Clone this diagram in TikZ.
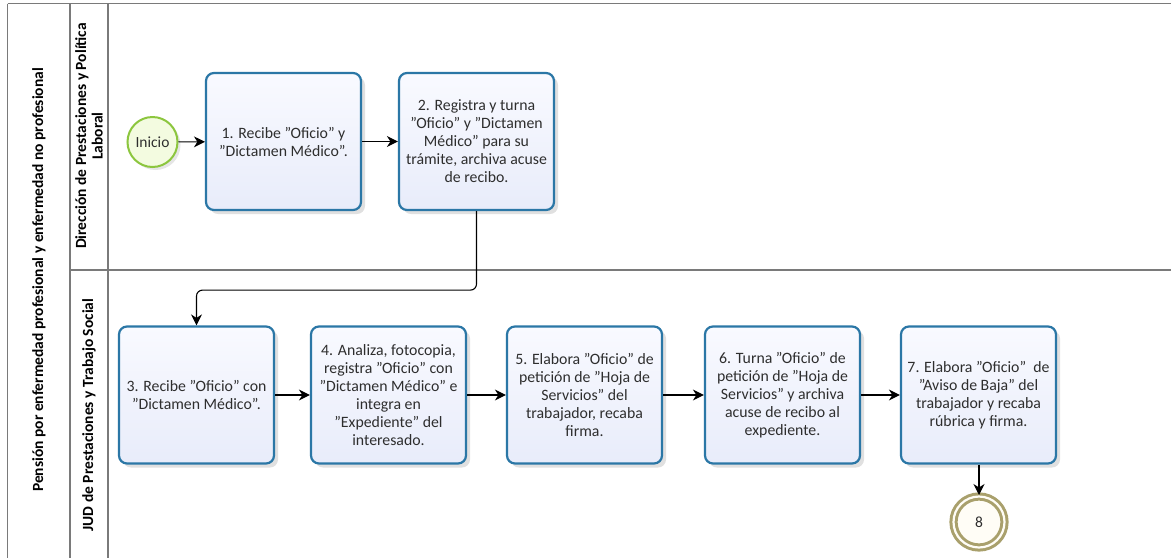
\documentclass[tikz,border=0pt]{standalone}
\usepackage{fontspec}
\setmainfont{Carlito}
\usetikzlibrary{arrows.meta,shadows,positioning}
\definecolor{laneline}{HTML}{7A7A7A}
\definecolor{taskline}{HTML}{2B77A6}
\definecolor{tasktop}{HTML}{F9FAFF}
\definecolor{taskbot}{HTML}{E8ECFA}
\definecolor{txt}{HTML}{2E2E2E}
\definecolor{startline}{HTML}{8CC63E}
\definecolor{startfill}{HTML}{F3FBE0}
\definecolor{endline}{HTML}{A9A06C}
\definecolor{endfill}{HTML}{FFFDF6}
\tikzset{
  x=1pt, y=-1pt,
  lanerule/.style={draw=laneline, line width=1.4pt},
  lanelabel/.style={font=\bfseries\fontsize{15.5}{16.5}\selectfont, text=black, rotate=90, align=center},
  task/.style={draw=taskline, line width=2.2pt, rounded corners=8pt,
    top color=tasktop, bottom color=taskbot,
    minimum width=155pt, minimum height=137pt, inner sep=0pt,
    align=center, text=txt, font=\fontsize{15.8}{18}\selectfont,
    drop shadow={shadow xshift=4pt, shadow yshift=-4pt, opacity=0.12, fill=black}},
  flow/.style={draw=black, line width=1.1pt, -{Stealth[length=11pt,width=11pt,inset=3.5pt]}},
  startev/.style={circle, draw=startline, line width=2pt, fill=startfill,
    minimum size=50pt, inner sep=0pt, text=txt, font=\fontsize{15.5}{17}\selectfont,
    drop shadow={shadow xshift=3pt, shadow yshift=-3pt, opacity=0.1, fill=black}},
  endev/.style={circle, draw=endline, line width=3pt, fill=endfill,
    minimum size=51pt, inner sep=0pt, text=txt, font=\fontsize{15.5}{17}\selectfont,
    double=endfill, double distance=2.2pt,
    drop shadow={shadow xshift=3pt, shadow yshift=-3pt, opacity=0.1, fill=black}}
}
\begin{document}
\begin{tikzpicture}
\useasboundingbox (0,0) rectangle (1171,558);
\fill[white] (0,0) rectangle (1171,558);

% pool and lane frame
\draw[lanerule] (7.5,3.5) -- (1171,3.5);
\draw[lanerule] (7.5,3.5) -- (7.5,558);
\draw[lanerule] (70,3.5) -- (70,558);
\draw[lanerule] (108,3.5) -- (108,558);
\draw[lanerule] (70,270) -- (1171,270);

\node[lanelabel] (pool) at (39,280) {Pensión por enfermedad profesional y enfermedad no profesional};
\node[lanelabel] (laneA) at (89,136) {Dirección de Prestaciones y Política\\Laboral};
\node[lanelabel] (laneB) at (89,415) {JUD de Prestaciones y Trabajo Social};

% lane 1
\node[startev] (ini) at (152.5,142) {Inicio};
\node[task] (t1) at (283.5,141.5) {1. Recibe "Oficio" y\\"Dictamen Médico".};
\node[task] (t2) at (476.5,141.5) {2. Registra y turna\\"Oficio" y "Dictamen\\Médico" para su\\trámite, archiva acuse\\de recibo.};

% lane 2
\node[task] (t3) at (196.5,395) {3. Recibe "Oficio" con\\"Dictamen Médico".};
\node[task] (t4) at (388.5,395) {4. Analiza, fotocopia,\\registra "Oficio" con\\"Dictamen Médico" e\\integra en\\"Expediente" del\\interesado.};
\node[task] (t5) at (584.5,395) {5. Elabora "Oficio" de\\petición de "Hoja de\\Servicios" del\\trabajador, recaba\\firma.};
\node[task] (t6) at (782.5,395) {6. Turna "Oficio" de\\petición de "Hoja de\\Servicios" y archiva\\acuse de recibo al\\expediente.};
\node[task] (t7) at (978.5,395) {7. Elabora "Oficio"~ de\\"Aviso de Baja" del\\trabajador y recaba\\rúbrica y firma.};
\node[endev] (fin) at (979,522) {8};

% sequence flows
\draw[flow] (ini) -- (t1);
\draw[flow] (t1) -- (t2);
\draw[flow, rounded corners=6pt] (t2.south) -- ++(0,79) -| (t3.north);
\draw[flow] (t3) -- (t4);
\draw[flow] (t4) -- (t5);
\draw[flow] (t5) -- (t6);
\draw[flow] (t6) -- (t7);
\draw[flow] (t7.south -| fin) -- (fin);
\end{tikzpicture}
\end{document}
